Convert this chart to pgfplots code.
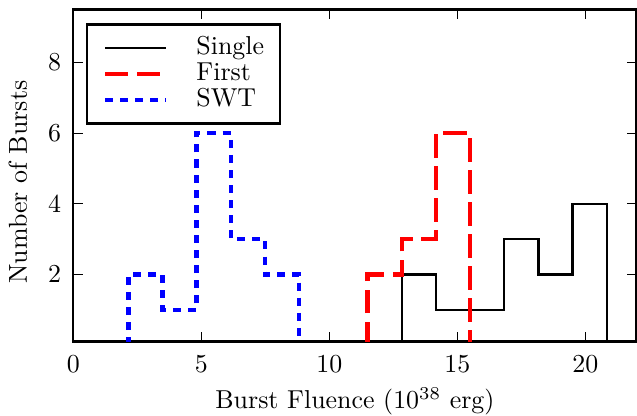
\documentclass[border=0pt]{standalone}
\usepackage{pgfplots}
\pgfplotsset{compat=1.18}
\begin{document}
\begin{tikzpicture}
\begin{axis}[
  scale only axis, width=216.6bp, height=127.8bp,
  xmin=0, xmax=22, ymin=0.1, ymax=9.5,
  xtick={0,5,10,15,20}, ytick={2,4,6,8},
  minor tick num=0,
  tick align=inside, major tick length=3.7bp,
  every tick/.style={black, line width=0.45bp},
  axis line style={line width=0.9bp},
  xticklabel style={anchor=north, inner sep=0pt, yshift=-5.2bp},
  yticklabel style={anchor=east, inner sep=0pt, xshift=-4.5bp},
  xlabel={Burst Fluence ($10^{38}$ erg)},
  ylabel={Number of Bursts},
  xlabel style={at={(axis description cs:0.5,-0.2026)}, anchor=base, inner sep=0pt},
  ylabel style={at={(axis description cs:-0.0983,0.48)}, anchor=center, inner sep=0pt},
  legend cell align=left,
  legend image code/.code={\draw[#1] (0bp,0bp) -- (23.5bp,0bp);},
  legend style={at={(axis description cs:0.0226,0.9585)}, anchor=north west,
    draw=black, line width=0.9bp, fill=white,
    inner xsep=6bp, inner ysep=5bp, row sep=2.1bp, column sep=10.8bp,
    nodes={inner sep=0pt, text height=6.5bp, text depth=1.5bp}},
]
\addplot[black, line width=0.9bp, line join=miter] coordinates {
  (12.83,0) (12.83,2) (14.165,2) (14.165,1) (16.835,1) (16.835,3)
  (18.17,3) (18.17,2) (19.505,2) (19.505,4) (20.84,4) (20.84,0)};
\addlegendentry{Single}
\addplot[red, line width=1.6bp, dash pattern=on 9bp off 3.3bp, line join=miter] coordinates {
  (11.495,0) (11.495,2) (12.83,2) (12.83,3) (14.165,3) (14.165,6) (15.5,6) (15.5,0)};
\addlegendentry{First}
\addplot[blue, line width=1.7bp, dash pattern=on 3.1bp off 2.7bp, line join=miter] coordinates {
  (2.15,0) (2.15,2) (3.485,2) (3.485,1) (4.82,1) (4.82,6) (6.155,6)
  (6.155,3) (7.49,3) (7.49,2) (8.825,2) (8.825,0)};
\addlegendentry{SWT}
\end{axis}
\pgfresetboundingbox
\path (-28.2bp,-28.6bp) rectangle (216.8bp,131.4bp);
\end{tikzpicture}
\end{document}
